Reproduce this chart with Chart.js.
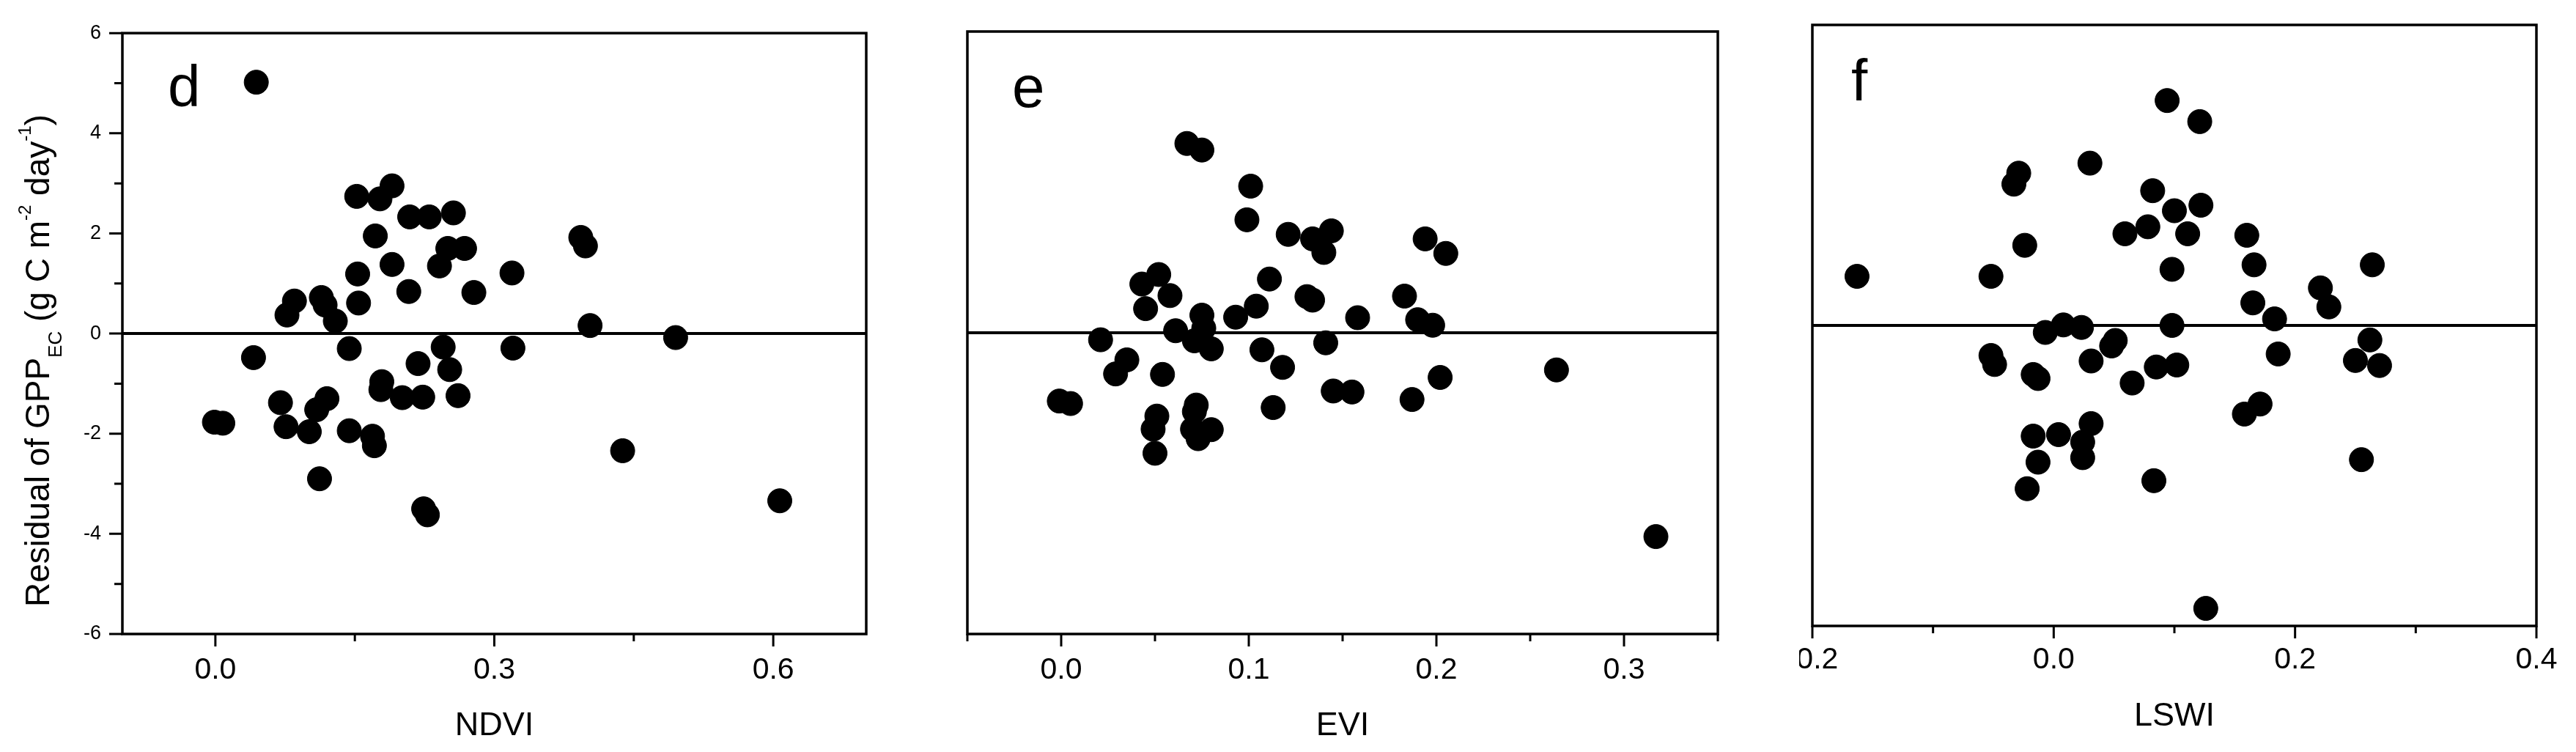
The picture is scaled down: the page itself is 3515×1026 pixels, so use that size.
<!DOCTYPE html>
<html lang="en">
<head>
    <meta charset="UTF-8">
    <title>Residual of GPP vs NDVI, EVI, LSWI</title>
    <script src="https://cdn.jsdelivr.net/npm/chart.js"></script>
    <style>
        body {
            margin: 0;
            background: #fff;
        }
        #page {
            position: relative;
            width: 3515px;
            height: 1026px;
            overflow: hidden;
            background: #fff;
        }
        .panel {
            position: absolute;
            top: 0;
        }
        /* panel f is cut on its left side in the original, the minus of -0.2 is lost */
        #wrap-f {
            position: absolute;
            left: 2455px;
            top: 0;
            width: 1060px;
            height: 1026px;
            overflow: hidden;
        }
        #chart-f {
            position: absolute;
            left: -55px;
            top: 0;
        }
    </style>
</head>
<body>
<div id="page">
    <canvas id="chart-d" class="panel" style="left:0" width="1250" height="1026"></canvas>
    <canvas id="chart-e" class="panel" style="left:1250px" width="1150" height="1026"></canvas>
    <div id="wrap-f"><canvas id="chart-f" width="1115" height="1026"></canvas></div>
</div>

<script>
    // Panel d: residual vs NDVI
    const ndvi = [0.044, 0.152, 0.177, 0.190, 0.209, 0.230, 0.256, 0.172, 0.190, 0.241,
                  0.250, 0.268, 0.153, 0.208, 0.278, 0.319, 0.393, 0.398, 0.403, 0.495,
                  0.438, 0.607, 0.077, 0.085, 0.114, 0.118, 0.129, 0.154, 0.041, 0.144,
                  0.245, 0.218, 0.252, 0.320, -0.001, 0.008, 0.070, 0.076, 0.101, 0.109,
                  0.120, 0.144, 0.169, 0.171, 0.179, 0.178, 0.201, 0.223, 0.261, 0.112,
                  0.224, 0.228];
    const residNdvi = [5.02, 2.74, 2.69, 2.95, 2.33, 2.33, 2.41, 1.95, 1.38, 1.35,
                       1.70, 1.70, 1.19, 0.84, 0.82, 1.21, 1.92, 1.75, 0.16, -0.08,
                       -2.34, -3.34, 0.37, 0.65, 0.72, 0.57, 0.25, 0.61, -0.48, -0.30,
                       -0.27, -0.60, -0.72, -0.29, -1.77, -1.79, -1.38, -1.86, -1.96, -1.52,
                       -1.30, -1.94, -2.05, -2.24, -0.96, -1.12, -1.28, -1.27, -1.24, -2.90,
                       -3.50, -3.62];

    // Panel e: residual vs EVI
    const evi = [0.067, 0.075, 0.101, 0.099, 0.121, 0.134, 0.144, 0.140, 0.194, 0.205,
                 0.043, 0.052, 0.058, 0.045, 0.111, 0.131, 0.134, 0.183, 0.104, 0.093,
                 0.075, 0.076, 0.061, 0.071, 0.080, 0.158, 0.190, 0.198, 0.021, 0.141,
                 0.107, 0.035, 0.029, 0.054, 0.118, 0.202, 0.264, -0.001, 0.005, 0.145,
                 0.155, 0.187, 0.113, 0.051, 0.049, 0.072, 0.071, 0.070, 0.073, 0.080,
                 0.050, 0.317];
    const residEvi = [3.77, 3.64, 2.92, 2.25, 1.96, 1.87, 2.03, 1.60, 1.87, 1.58,
                      0.97, 1.16, 0.74, 0.48, 1.07, 0.72, 0.65, 0.73, 0.53, 0.31,
                      0.35, 0.09, 0.04, -0.16, -0.32, 0.30, 0.26, 0.15, -0.14, -0.20,
                      -0.34, -0.54, -0.82, -0.83, -0.69, -0.89, -0.74, -1.36, -1.41, -1.16,
                      -1.18, -1.33, -1.49, -1.66, -1.92, -1.44, -1.57, -1.92, -2.11, -1.93,
                      -2.40, -4.06];

    // Panel f: residual vs LSWI
    const lswi = [0.094, 0.121, 0.030, -0.029, -0.033, 0.082, 0.100, 0.122, 0.078, 0.059,
                  0.111, -0.024, 0.160, 0.166, 0.264, 0.098, -0.052, 0.221, 0.228, 0.165,
                  0.183, -0.007, 0.008, 0.023, 0.098, 0.051, 0.048, 0.262, -0.052, -0.049,
                  0.031, 0.186, 0.250, 0.270, -0.017, -0.013, 0.085, 0.102, 0.065, 0.171,
                  0.158, 0.031, -0.017, 0.004, 0.024, 0.024, -0.013, 0.255, 0.083, -0.022,
                  -0.163, 0.126];
    const residLswi = [4.49, 4.07, 3.24, 3.04, 2.82, 2.69, 2.29, 2.40, 1.97, 1.83,
                       1.83, 1.60, 1.80, 1.21, 1.21, 1.12, 0.98, 0.75, 0.37, 0.45,
                       0.13, -0.14, 0.01, -0.04, 0.00, -0.30, -0.41, -0.29, -0.60, -0.78,
                       -0.71, -0.57, -0.70, -0.80, -0.98, -1.06, -0.83, -0.79, -1.15, -1.57,
                       -1.77, -1.96, -2.21, -2.18, -2.33, -2.64, -2.73, -2.68, -3.10, -3.26,
                       0.98, -5.65];

    // axis ranges and ticks
    const yRange = [-6, 6];
    const yMajor = [-6, -4, -2, 0, 2, 4, 6];
    const yMinor = [-5, -3, -1, 1, 3, 5];
    const ndviRange = [-0.1, 0.7];
    const ndviMajor = [0, 0.3, 0.6];
    const ndviMinor = [0.15, 0.45];
    const eviRange = [-0.05, 0.35];
    const eviMajor = [0, 0.1, 0.2, 0.3];
    const eviMinor = [-0.05, 0.05, 0.15, 0.25, 0.35];
    const lswiRange = [-0.2, 0.4];
    const lswiMajor = [-0.2, 0, 0.2, 0.4];
    const lswiMinor = [-0.1, 0.1, 0.3];
    const refLevel = 0;

    const FONT = 'Arial, "Liberation Sans", sans-serif';
    Chart.defaults.font.family = FONT;
    Chart.defaults.color = '#000';

    // box, tick marks, panel letter and (for d) the y title with sub/superscripts
    const panelDecor = {
        id: 'panelDecor',
        afterDraw(chart, args, o) {
            const ctx = chart.ctx;
            const a = chart.chartArea;
            const xs = chart.scales.x;
            const ys = chart.scales.y;
            ctx.save();
            ctx.strokeStyle = '#000';
            ctx.fillStyle = '#000';

            ctx.lineWidth = 3.5;
            ctx.strokeRect(a.left, a.top, a.right - a.left, a.bottom - a.top);

            ctx.lineWidth = 3;
            ctx.beginPath();
            o.xMajor.forEach(v => { const p = xs.getPixelForValue(v); ctx.moveTo(p, a.bottom); ctx.lineTo(p, a.bottom + 17); });
            o.xMinor.forEach(v => { const p = xs.getPixelForValue(v); ctx.moveTo(p, a.bottom); ctx.lineTo(p, a.bottom + 10); });
            o.yMajor.forEach(v => { const p = ys.getPixelForValue(v); ctx.moveTo(a.left, p); ctx.lineTo(a.left - 18, p); });
            o.yMinor.forEach(v => { const p = ys.getPixelForValue(v); ctx.moveTo(a.left, p); ctx.lineTo(a.left - 11, p); });
            ctx.stroke();

            ctx.textAlign = 'left';
            ctx.textBaseline = 'alphabetic';
            ctx.font = '80px ' + FONT;
            ctx.fillText(o.letter, a.left + o.letterDx, a.top + o.letterDy);

            if (o.yTitle) {
                const parts = [
                    ['Residual of GPP', 46, 0],
                    ['EC', 26, 17],
                    [' (g C m', 46, 0],
                    ['-2', 24, -25],
                    [' day', 46, 0],
                    ['-1', 24, -25],
                    [')', 46, 0]
                ];
                ctx.translate(67, 828);
                ctx.rotate(-Math.PI / 2);
                let cx = 0;
                parts.forEach(([t, size, dy]) => {
                    ctx.font = size + 'px ' + FONT;
                    ctx.fillText(t, cx, dy);
                    cx += ctx.measureText(t).width;
                });
            }
            ctx.restore();
        }
    };

    function makePanel(id, cfg) {
        const points = cfg.xs.map((v, i) => ({ x: v, y: cfg.ys[i] }));
        new Chart(document.getElementById(id), {
            type: 'scatter',
            data: {
                datasets: [
                    {
                        data: points,
                        backgroundColor: '#000',
                        borderColor: '#000',
                        borderWidth: 1,
                        pointRadius: 16.5,
                        pointHoverRadius: 16.5
                    },
                    {
                        type: 'line',
                        data: [{ x: cfg.xRange[0], y: refLevel }, { x: cfg.xRange[1], y: refLevel }],
                        borderColor: '#000',
                        borderWidth: 4,
                        pointRadius: 0,
                        showLine: true
                    }
                ]
            },
            options: {
                responsive: false,
                animation: false,
                layout: { padding: { top: cfg.top, right: cfg.right, left: 0, bottom: 0 } },
                plugins: {
                    legend: { display: false },
                    tooltip: { enabled: false },
                    panelDecor: {
                        letter: cfg.letter,
                        letterDx: cfg.letterDx,
                        letterDy: cfg.letterDy,
                        xMajor: cfg.xMajor,
                        xMinor: cfg.xMinor,
                        yMajor: cfg.showY ? yMajor : [],
                        yMinor: cfg.showY ? yMinor : [],
                        yTitle: cfg.showY
                    }
                },
                scales: {
                    x: {
                        type: 'linear',
                        min: cfg.xRange[0],
                        max: cfg.xRange[1],
                        afterBuildTicks: s => { s.ticks = cfg.xMajor.map(v => ({ value: v })); },
                        afterFit: s => { s.height = cfg.xHeight; },
                        grid: { display: false, drawTicks: false },
                        border: { display: false },
                        ticks: {
                            padding: cfg.xPad,
                            autoSkip: false,
                            maxRotation: 0,
                            color: '#000',
                            font: { size: 41 },
                            callback: v => Number(v).toFixed(1)
                        },
                        title: {
                            display: true,
                            text: cfg.xTitle,
                            color: '#000',
                            font: { size: 45 },
                            padding: { top: 0, bottom: cfg.titlePad }
                        }
                    },
                    y: {
                        type: 'linear',
                        min: yRange[0],
                        max: yRange[1],
                        afterBuildTicks: s => { s.ticks = yMajor.map(v => ({ value: v })); },
                        afterFit: s => { s.width = cfg.yWidth; },
                        grid: { display: false, drawTicks: false },
                        border: { display: false },
                        ticks: {
                            display: cfg.showY,
                            padding: 29,
                            color: '#000',
                            font: { size: 27 },
                            callback: v => String(v)
                        }
                    }
                }
            },
            plugins: [panelDecor]
        });
    }

    makePanel('chart-d', {
        xs: ndvi, ys: residNdvi, xRange: ndviRange, xMajor: ndviMajor, xMinor: ndviMinor,
        xTitle: 'NDVI', letter: 'd', letterDx: 62, letterDy: 100,
        top: 39, right: 68, yWidth: 167, xHeight: 161, xPad: 25, titlePad: 8, showY: true
    });
    makePanel('chart-e', {
        xs: evi, ys: residEvi, xRange: eviRange, xMajor: eviMajor, xMinor: eviMinor,
        xTitle: 'EVI', letter: 'e', letterDx: 61, letterDy: 103,
        top: 43, right: 56, yWidth: 70, xHeight: 161, xPad: 25, titlePad: 8, showY: false
    });
    makePanel('chart-f', {
        xs: lswi, ys: residLswi, xRange: lswiRange, xMajor: lswiMajor, xMinor: lswiMinor,
        xTitle: 'LSWI', letter: 'f', letterDx: 53, letterDy: 103,
        top: 34, right: 54, yWidth: 73, xHeight: 172, xPad: 22, titlePad: 21, showY: false
    });
</script>
</body>
</html>
